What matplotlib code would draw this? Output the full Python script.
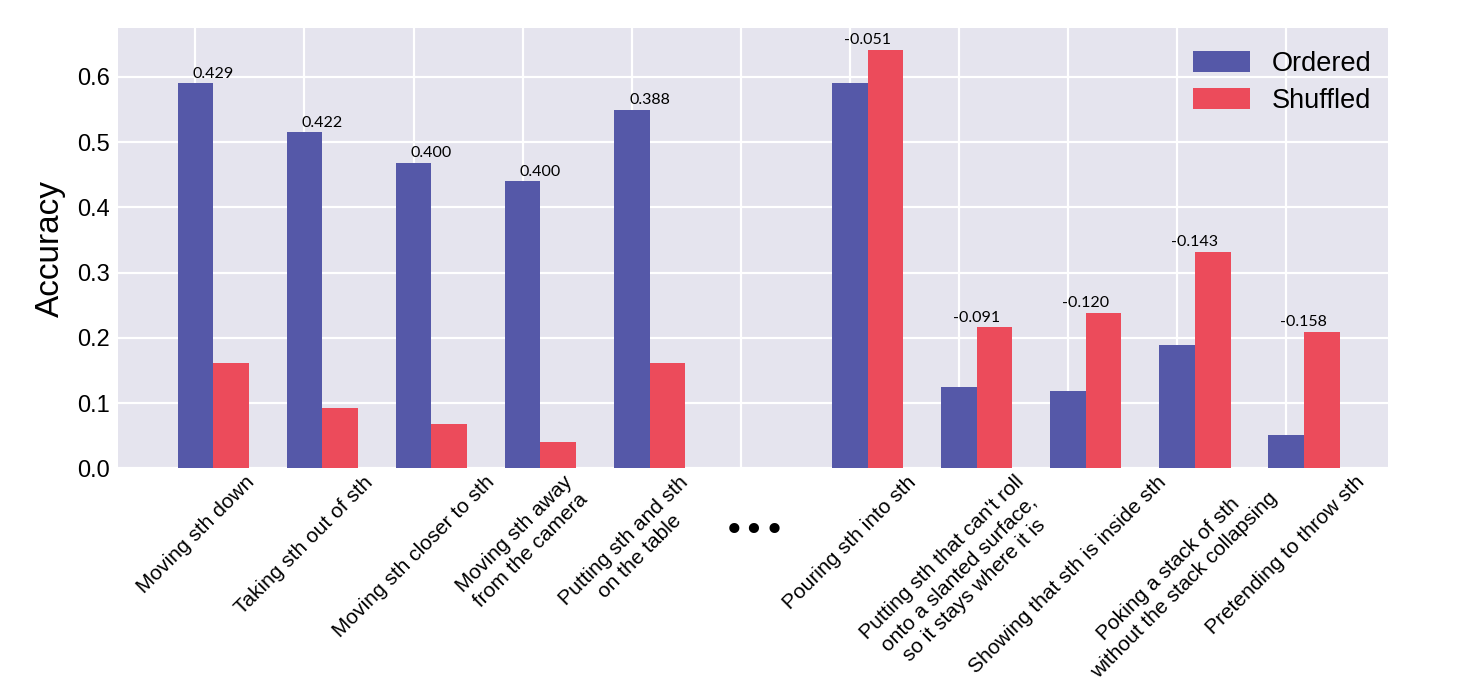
import matplotlib
matplotlib.use("Agg")
import matplotlib.pyplot as plt
import matplotlib.transforms as mtransforms
import numpy as np

# data
categories = ["Moving sth down", "Taking sth out of sth", "Moving sth closer to sth",
              "Moving sth away\nfrom the camera", "Putting sth and sth\non the table",
              "",
              "Pouring sth into sth",
              "Putting sth that can't roll\nonto a slanted surface,\nso it stays where it is",
              "Showing that sth is inside sth",
              "Poking a stack of sth\nwithout the stack collapsing",
              "Pretending to throw sth"]
ordered = [0.590, 0.515, 0.468, 0.440, 0.550, np.nan, 0.591, 0.125, 0.118, 0.189, 0.051]
shuffled = [0.161, 0.093, 0.068, 0.040, 0.162, np.nan, 0.642, 0.216, 0.238, 0.332, 0.209]
diff_labels = ["0.429", "0.422", "0.400", "0.400", "0.388", "",
               "-0.051", "-0.091", "-0.120", "-0.143", "-0.158"]

plt.rcParams['font.family'] = ['Liberation Sans', 'DejaVu Sans']

fig = plt.figure(figsize=(14.58, 7), dpi=100)
ax = fig.add_axes([0.081, 0.331, 0.871, 0.629])
ax.set_facecolor('#e5e4ee')
for s in ax.spines.values():
    s.set_visible(False)
ax.grid(True, color='white', linewidth=1.6)
ax.set_axisbelow(True)

x = np.arange(len(categories))
w = 0.33
ax.bar(x, ordered, w, color='#5558a8', label='Ordered')
ax.bar(x + w, shuffled, w, color='#ec4b5b', label='Shuffled')

for i, t in enumerate(diff_labels):
    if not t:
        continue
    top = max(ordered[i], shuffled[i])
    ax.annotate(t, (x[i] + w / 2, top), xytext=(0, 2), textcoords='offset points',
                ha='center', va='bottom', fontsize=11.5, family=['Lato', 'DejaVu Sans'])

ax.set_xticks(x)
ax.set_xticklabels(categories, rotation=45, ha='center', fontsize=15,
                   multialignment='center', linespacing=1.25)
shift = mtransforms.ScaledTranslation(-8 / 100, 0, fig.dpi_scale_trans)
for lab in ax.get_xticklabels():
    lab.set_transform(lab.get_transform() + shift)
ax.tick_params(axis='both', length=0, pad=6)
ax.tick_params(axis='x', pad=3)
ax.tick_params(axis='y', labelsize=17)
ax.set_yticks(np.arange(0, 0.61, 0.1))
ax.set_ylim(0, 0.675)
ax.set_xlim(-0.71, 10.94)
ax.set_ylabel('Accuracy', fontsize=24, labelpad=8)

# the gap marker between the two groups
ax.text(5 + 0.13, -0.143, '\u2022\u2022\u2022', transform=ax.get_xaxis_transform(),
        ha='center', va='center', fontsize=25, family='DejaVu Sans')

ax.legend(loc='upper right', frameon=False, fontsize=19.5, handlelength=2.1,
          handleheight=0.8, labelspacing=0.4, borderaxespad=0.2,
          bbox_to_anchor=(1.0, 0.985))

fig.savefig('out.png', dpi=100)
